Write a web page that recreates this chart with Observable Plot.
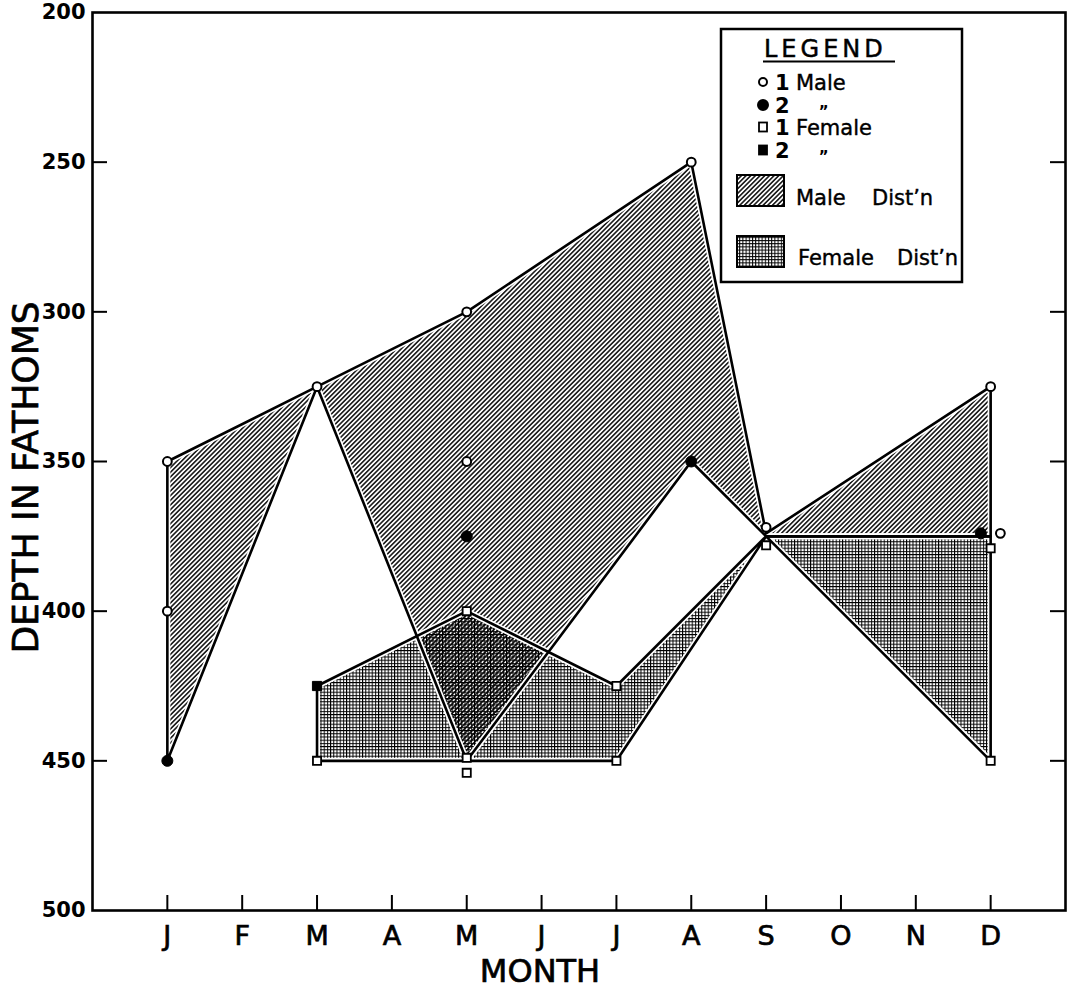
<!DOCTYPE html>
<html><head><meta charset="utf-8">
<script src="https://cdn.jsdelivr.net/npm/d3@7"></script>
<script src="https://cdn.jsdelivr.net/npm/@observablehq/plot@0.6"></script>
<style>
body{margin:0;background:#fff;}
#chart{position:relative;width:1073px;height:991px;}
</style></head><body><div id="chart"></div>
<script>
// ---- data ----
const monthLabels = ["J","F","M","A","M","J","J","A","S","O","N","D"];
const monthTicks = [1,2,3,4,5,6,7,8,9,10,11,12];
const depthTicks = [200,250,300,350,400,450,500];
const innerDepthTicks = [250,300,350,400,450];

// distribution outlines (month index, depth in fathoms)
const maleOutlineMonth = [1,3,5,8,9,12,12,9,8,5,3,1,1];
const maleOutlineDepth = [350,325,300,250,374,325,375,375,350,450,325,450,350];
const femaleOutlineMonth = [3,5,7,9,12,12,9,7,3,3];
const femaleOutlineDepth = [425,400,425,375,375,450,375,450,450,425];

// observations
const male1Month = [1,1,3,5,5,8,9,12,12.13];
const male1Depth = [350,400,325,300,350,250,372,325,374];
const male2Month = [1,5,8,11.87];
const male2Depth = [450,375,350,374];
const female1Month = [3,5,5,5,7,7,9,12,12];
const female1Depth = [450,400,449,454,425,450,378,379,450];
const female2Month = [3];
const female2Depth = [425];

// ---- chart ----
const zip = (xs, ys) => xs.map((x, i) => ({x, y: ys[i]}));
const male = zip(maleOutlineMonth, maleOutlineDepth);
const female = zip(femaleOutlineMonth, femaleOutlineDepth);

const W = 1073, H = 991, mL = 92, mR = 8, mT = 12, mB = 81;
const frameW = W - mL - mR, frameH = H - mT - mB;
const font = "'DejaVu Sans', sans-serif";

const svg = Plot.plot({
  width: W, height: H,
  marginLeft: mL, marginRight: mR, marginTop: mT, marginBottom: mB,
  style: {fontFamily: font, background: "#fff", color: "#000"},
  x: {domain: [0, 13], axis: null},
  y: {domain: [200, 500], reverse: true, axis: null},
  marks: [
    Plot.line(male, {x: "x", y: "y", fill: "url(#maleHatch)", stroke: "none"}),
    Plot.line(female, {x: "x", y: "y", fill: "url(#femaleDots)", stroke: "none"}),
    Plot.line(male, {x: "x", y: "y", stroke: "#fff", strokeWidth: 6, strokeLinejoin: "round"}),
    Plot.line(female, {x: "x", y: "y", stroke: "#fff", strokeWidth: 6, strokeLinejoin: "round"}),
    Plot.line(male, {x: "x", y: "y", stroke: "#000", strokeWidth: 2.6, strokeLinejoin: "round"}),
    Plot.line(female, {x: "x", y: "y", stroke: "#000", strokeWidth: 2.6, strokeLinejoin: "round"}),
    Plot.frame({stroke: "#000", strokeWidth: 2.6}),
    Plot.tickY(innerDepthTicks, {y: d => d, insetRight: frameW - 15, strokeWidth: 2}),
    Plot.tickY(innerDepthTicks, {y: d => d, insetLeft: frameW - 15, strokeWidth: 2}),
    Plot.tickX(monthTicks, {x: d => d, insetTop: frameH - 15, strokeWidth: 2}),
    Plot.axisY(depthTicks, {anchor: "left", tickSize: 0, tickPadding: 7, fontSize: 21, fontWeight: "bold", label: null}),
    Plot.axisX(monthTicks, {anchor: "bottom", tickSize: 0, tickPadding: 15, tickFormat: d => monthLabels[d - 1], fontSize: 27, label: null}),
    Plot.text(["MONTH"], {frameAnchor: "bottom", textAnchor: "middle", dx: -39, dy: 71, fontSize: 32}),
    Plot.text(["DEPTH IN FATHOMS"], {frameAnchor: "left", textAnchor: "middle", rotate: -90, dx: -66, dy: 16, fontSize: 36}),
    Plot.dot(zip(female1Month, female1Depth), {x: "x", y: "y", symbol: "square", r: 4.6, fill: "#fff", stroke: "#000", strokeWidth: 1.8}),
    Plot.dot(zip(female2Month, female2Depth), {x: "x", y: "y", symbol: "square", r: 5.2, fill: "#000", stroke: "#000", strokeWidth: 1}),
    Plot.dot(zip(male1Month, male1Depth), {x: "x", y: "y", r: 4.4, fill: "#fff", stroke: "#000", strokeWidth: 2}),
    Plot.dot(zip(male2Month, male2Depth), {x: "x", y: "y", r: 5.5, fill: "#000", stroke: "#000", strokeWidth: 1})
  ]
});

const S = d3.select(svg);
const defs = S.insert("defs", ":first-child");
const mh = defs.append("pattern").attr("id", "maleHatch").attr("patternUnits", "userSpaceOnUse")
  .attr("width", 3.3).attr("height", 3.3).attr("patternTransform", "rotate(45)");
mh.append("line").attr("x1", 1.65).attr("y1", -1).attr("x2", 1.65).attr("y2", 5)
  .attr("stroke", "#000").attr("stroke-width", 1.45);
const fd = defs.append("pattern").attr("id", "femaleDots").attr("patternUnits", "userSpaceOnUse")
  .attr("width", 3.2).attr("height", 3.2);
fd.append("rect").attr("width", 3.2).attr("height", 1).attr("fill", "#000");
fd.append("rect").attr("width", 1).attr("height", 3.2).attr("fill", "#000");

// heavier lettering like the original
S.selectAll("[aria-label='x-axis tick label'] text").attr("stroke", "#000").attr("stroke-width", 0.7);
S.selectAll("[aria-label='text'] text").attr("stroke", "#000").attr("stroke-width", 0.7);

// ---- legend ----
const lg = S.append("g").attr("font-family", font).attr("fill", "#000").attr("text-anchor", "start");
lg.append("rect").attr("x", 721).attr("y", 29).attr("width", 241).attr("height", 253)
  .attr("fill", "#fff").attr("stroke", "#000").attr("stroke-width", 2.5);
lg.append("text").attr("x", 764).attr("y", 57).attr("font-size", 24).attr("letter-spacing", 4)
  .attr("stroke", "#000").attr("stroke-width", 0.5).text("LEGEND");
lg.append("line").attr("x1", 763).attr("x2", 895).attr("y1", 61.5).attr("y2", 61.5)
  .attr("stroke", "#000").attr("stroke-width", 2);

const rows = [
  {cy: 82, num: "1", label: "Male", sym: "circle", fill: "#fff"},
  {cy: 105, num: "2", label: "\u201E", sym: "circle", fill: "#000"},
  {cy: 127, num: "1", label: "Female", sym: "square", fill: "#fff"},
  {cy: 150, num: "2", label: "\u201E", sym: "square", fill: "#000"}
];
for (const r of rows) {
  if (r.sym === "circle") {
    lg.append("circle").attr("cx", 763).attr("cy", r.cy).attr("r", r.fill === "#fff" ? 4 : 5)
      .attr("fill", r.fill).attr("stroke", "#000").attr("stroke-width", 2);
  } else {
    lg.append("rect").attr("x", 759).attr("y", r.cy - 4.5).attr("width", 8).attr("height", 9)
      .attr("fill", r.fill).attr("stroke", "#000").attr("stroke-width", 1.8);
  }
  lg.append("text").attr("x", 775).attr("y", r.cy + 7.5).attr("font-size", 21).attr("font-weight", "bold").text(r.num);
  if (r.label === "\u201E") {
    lg.append("text").attr("x", 819).attr("y", r.cy + 3).attr("font-size", 15).attr("font-weight", "bold").text(r.label);
  } else {
    lg.append("text").attr("x", 796).attr("y", r.cy + 8).attr("font-size", 21).attr("stroke", "#000").attr("stroke-width", 0.4).text(r.label);
  }
}
lg.append("rect").attr("x", 737).attr("y", 175).attr("width", 47).attr("height", 31)
  .attr("fill", "url(#maleHatch)").attr("stroke", "#000").attr("stroke-width", 2);
const t1 = lg.append("text").attr("y", 205).attr("font-size", 21).attr("stroke", "#000").attr("stroke-width", 0.4);
t1.append("tspan").attr("x", 796).text("Male");
t1.append("tspan").attr("x", 872).text("Dist\u2019n");
lg.append("rect").attr("x", 737).attr("y", 236).attr("width", 47).attr("height", 31)
  .attr("fill", "url(#femaleDots)").attr("stroke", "#000").attr("stroke-width", 2);
const t2 = lg.append("text").attr("y", 265).attr("font-size", 21).attr("stroke", "#000").attr("stroke-width", 0.4);
t2.append("tspan").attr("x", 798).text("Female");
t2.append("tspan").attr("x", 897).text("Dist\u2019n");

document.getElementById("chart").appendChild(svg);
</script></body></html>
